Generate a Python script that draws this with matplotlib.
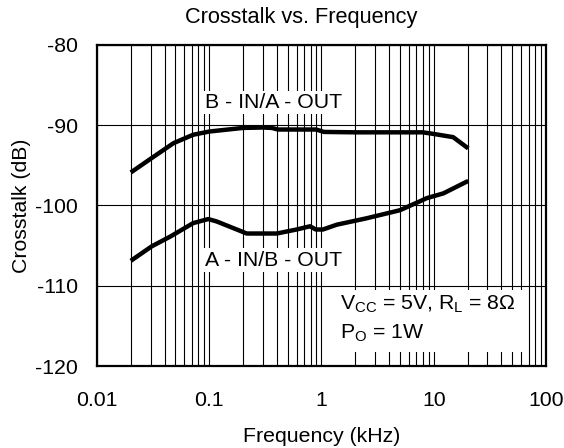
import matplotlib
matplotlib.use("Agg")
import matplotlib.pyplot as plt
from matplotlib.patches import Rectangle
from matplotlib.ticker import LogLocator, FixedLocator, NullFormatter

plt.rcParams['font.family'] = ['Liberation Sans', 'DejaVu Sans']
plt.rcParams['mathtext.fontset'] = 'custom'
plt.rcParams['mathtext.rm'] = 'Liberation Sans'
plt.rcParams['mathtext.it'] = 'Liberation Sans'

# Data (kHz, dB)
freq_b = [0.02, 0.03, 0.048, 0.072, 0.1, 0.2, 0.3, 0.36, 0.41, 0.9, 1.05, 2.0, 5.0, 8.0, 10.0, 14.9, 20.3]
xtalk_b = [-95.9, -94.2, -92.25, -91.2, -90.8, -90.35, -90.3, -90.35, -90.55, -90.55, -90.85, -90.9, -90.9, -90.9, -91.1, -91.5, -92.9]

freq_a = [0.02, 0.0307, 0.0447, 0.072, 0.098, 0.1165, 0.216, 0.4, 0.6, 0.79, 0.89, 1.03, 1.37, 2.53, 5.0, 7.5, 8.65, 12.2, 20.3]
xtalk_a = [-106.9, -105.1, -103.9, -102.2, -101.7, -102.0, -103.5, -103.5, -103.0, -102.6, -103.0, -103.0, -102.4, -101.6, -100.6, -99.5, -99.1, -98.5, -96.95]

xticks = [0.01, 0.1, 1, 10, 100]
xticklabels = ['0.01', '0.1', '1', '10', '100']
yticks = [-120, -110, -100, -90, -80]
yticklabels = ['-120', '-110', '-100', '-90', '-80']

fig = plt.figure(figsize=(5.64, 4.48), dpi=100)
ax = fig.add_axes([0.172, 0.183, 0.796, 0.717])

ax.set_xscale('log')
ax.set_xlim(0.01, 100)
ax.set_ylim(-120, -80)
ax.xaxis.set_major_locator(FixedLocator(xticks))
ax.set_xticklabels(xticklabels)
ax.xaxis.set_minor_locator(LogLocator(base=10, subs=range(2, 10)))
ax.xaxis.set_minor_formatter(NullFormatter())
ax.set_yticks(yticks)
ax.set_yticklabels(yticklabels)

ax.set_axisbelow(True)
ax.grid(True, which='major', axis='both', color='black', linewidth=0.8)
ax.grid(True, which='minor', axis='x', color='black', linewidth=0.8)

ax.tick_params(axis='both', which='both', length=0, labelsize=15.3)
ax.tick_params(axis='x', pad=18)
ax.tick_params(axis='y', pad=14)
for s in ax.spines.values():
    s.set_linewidth(1.6)

ax.plot(freq_b, xtalk_b, color='black', linewidth=3.2, solid_capstyle='butt', zorder=3)
ax.plot(freq_a, xtalk_a, color='black', linewidth=3.2, solid_capstyle='butt', zorder=3)

lbl_box = dict(facecolor='white', edgecolor='none', pad=1.5)
ax.text(0.0916, -87.2, 'B - IN/A - OUT', fontsize=15.3, va='center', ha='left', bbox=lbl_box, zorder=4)
ax.text(0.0916, -106.8, 'A - IN/B - OUT', fontsize=15.3, va='center', ha='left', bbox=lbl_box, zorder=4)

ax.add_patch(Rectangle((1.24, -118.26), 62.4 - 1.24, 7.76, facecolor='white', edgecolor='none', zorder=1.5))
ax.text(1.46, -112.3, r'V$_{\mathrm{CC}}$ = 5V, R$_{\mathrm{L}}$ = 8Ω', fontsize=15.3, va='center', ha='left', zorder=4)
ax.text(1.46, -115.95, r'P$_{\mathrm{O}}$ = 1W', fontsize=15.3, va='center', ha='left', zorder=4)

fig.text(301 / 564, 1 - 18 / 448, 'Crosstalk vs. Frequency', fontsize=15.7, ha='center', va='center')
ax.set_xlabel('Frequency (kHz)', fontsize=15.3, labelpad=12)
ax.set_ylabel('Crosstalk (dB)', fontsize=15.3, labelpad=3)

fig.savefig('out.png', dpi=100)
